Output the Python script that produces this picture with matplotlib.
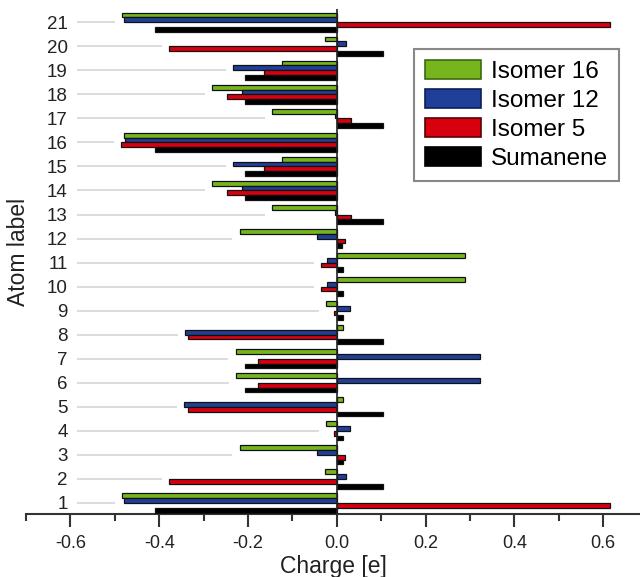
import numpy as np
import matplotlib
matplotlib.use("Agg")
import matplotlib.pyplot as plt
from matplotlib.ticker import MultipleLocator, FormatStrFormatter

plt.rcParams['font.family'] = ['Liberation Sans', 'DejaVu Sans']
plt.rcParams['axes.unicode_minus'] = False

atoms = list(range(1, 22))

# charges, atom 1 .. 21
isomer16 = [-0.484, -0.026, -0.219, -0.024, 0.013, -0.226, -0.228, 0.013, -0.024, 0.289, 0.289,
            -0.219, -0.145, -0.280, -0.123, -0.479, -0.145, -0.281, -0.123, -0.027, -0.484]
isomer12 = [-0.479, 0.020, -0.045, 0.029, -0.343, 0.322, 0.322, -0.341, 0.029, -0.022, -0.022,
            -0.045, -0.004, -0.214, -0.233, -0.476, -0.004, -0.214, -0.233, 0.020, -0.479]
isomer5 = [0.615, -0.378, 0.019, -0.007, -0.334, -0.178, -0.178, -0.334, -0.007, -0.036, -0.036,
           0.019, 0.031, -0.247, -0.164, -0.486, 0.031, -0.247, -0.164, -0.378, 0.615]
sumanene = [-0.410, 0.105, 0.013, 0.013, 0.105, -0.207, -0.207, 0.105, 0.013, 0.013, 0.013,
            0.011, 0.105, -0.207, -0.207, -0.410, 0.105, -0.207, -0.207, 0.103, -0.410]

series = [
    ("Isomer 16", isomer16, "#77b51f", 0.3),
    ("Isomer 12", isomer12, "#1f3f98", 0.1),
    ("Isomer 5", isomer5, "#d7000f", -0.1),
    ("Sumanene", sumanene, "#000000", -0.3),
]

fig = plt.figure(figsize=(6.4, 5.77), dpi=100)
ax = fig.add_axes([26 / 640, 1 - 514 / 577, 1 - 26 / 640, 505 / 577])

y = np.array(atoms, dtype=float)

# faint guide lines left of the bars
row_min = np.min([isomer16, isomer12, isomer5, sumanene], axis=0)
ax.hlines(y, -0.585, row_min - 0.016, color="#dcdcdc", lw=1.4, zorder=1)

for name, vals, col, off in series:
    ax.barh(y + off, vals, height=0.2, color=col, edgecolor="#111111",
            linewidth=0.9, label=name, zorder=3)

ax.axvline(0, color="#222222", lw=1.2, zorder=4)

ax.set_xlim(-0.7, 0.683)
ax.set_ylim(0.54, 21.55)

ax.xaxis.set_major_locator(MultipleLocator(0.2))
ax.xaxis.set_minor_locator(MultipleLocator(0.1))
ax.xaxis.set_major_formatter(FormatStrFormatter('%.1f'))
ax.set_yticks(atoms)
ax.set_yticklabels([str(a) for a in atoms])

ax.tick_params(axis='x', which='major', length=9, width=1.5, color="#333333",
               labelsize=13, pad=6, labelcolor="#222222")
ax.tick_params(axis='x', which='minor', length=5, width=1.5, color="#333333")
ax.tick_params(axis='y', length=0, labelsize=13.5, pad=-30, labelcolor="#222222")

for s in ['top', 'right', 'left']:
    ax.spines[s].set_visible(False)
ax.spines['bottom'].set_color("#333333")
ax.spines['bottom'].set_linewidth(1.5)

ax.set_xlabel("Charge [e]", fontsize=16.5, color="#222222", labelpad=2)
ax.set_ylabel("Atom label", fontsize=16.5, color="#222222")
ax.yaxis.set_label_coords(0.006, 0.519)

leg = ax.legend(loc='upper right', bbox_to_anchor=(619 / 640, 1 - 49 / 577),
                bbox_transform=fig.transFigure, fontsize=17.5, frameon=True,
                fancybox=False, handlelength=2.3, handleheight=0.85,
                handletextpad=0.4, labelspacing=0.24, borderpad=0.45,
                borderaxespad=0)
leg.get_frame().set_edgecolor("#888888")
leg.get_frame().set_linewidth(1.5)
leg.get_frame().set_alpha(1)
edge_cols = ["#3d6a10", "#0d1f55", "#5a0006", "#000000"]
for h, ec in zip(leg.legend_handles, edge_cols):
    h.set_edgecolor(ec)
    h.set_linewidth(1.2)

fig.savefig("out.png", dpi=100)
